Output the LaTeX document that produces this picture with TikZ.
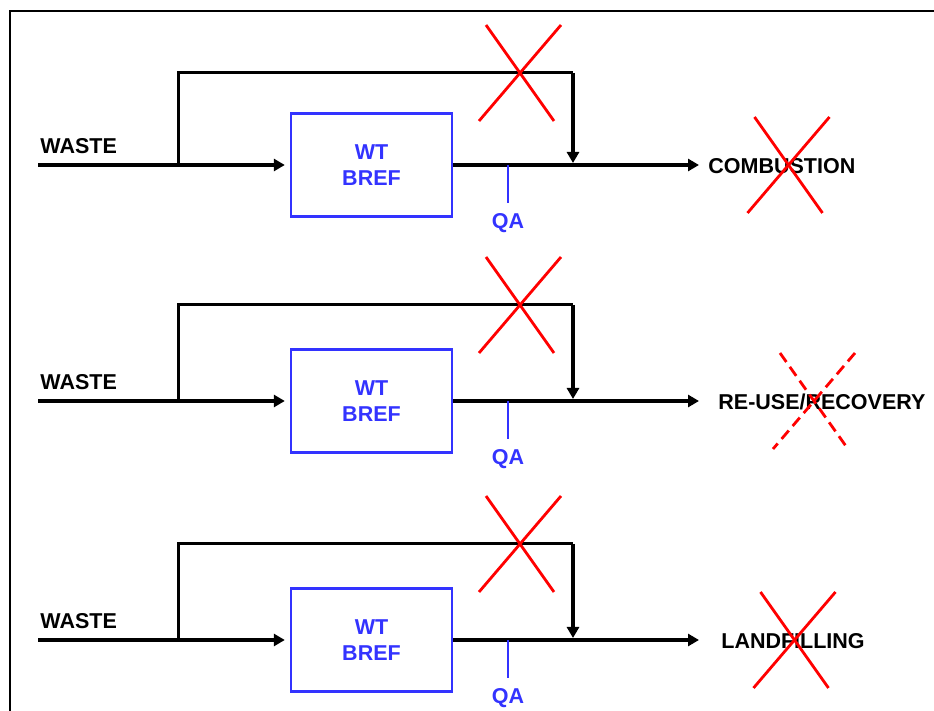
\documentclass[tikz,border=0pt]{standalone}
\usepackage{fontspec}
\setmainfont{Liberation Sans}
\usetikzlibrary{arrows.meta,positioning}

\definecolor{wtblue}{RGB}{51,51,255}

\tikzset{
    flow/.style={line width=2pt,-{Triangle[length=5.5pt,width=6pt]}},
    bypass/.style={line width=1.5pt},
    wtbox/.style={draw=wtblue,line width=1.2pt,minimum width=80.5pt,
        minimum height=51.5pt,text=wtblue,align=center,inner sep=0pt,
        font=\bfseries\fontsize{10.75}{13.25}\selectfont},
    qaline/.style={wtblue,line width=0.8pt},
    lbl/.style={font=\bfseries\fontsize{10.75}{13.25}\selectfont,inner sep=0pt},
    redx/.style={red,line width=1.4pt},
    nogo/.pic={
        \draw[redx] (-34,-48) -- (34,48);
        \draw[redx] (41,-48) -- (-41,48);
    }
}

\begin{document}
\begin{tikzpicture}[x=0.5pt,y=-0.5pt]
    \useasboundingbox (0,0) rectangle (934,711);

    % frame, cut off at the right and bottom
    \draw[line width=1.2pt] (950,11) -- (10,11) -- (10,725);

    % one treatment line per destination
    \foreach \y/\yt/\lx/\out [count=\i] in
        {165/73/708/COMBUSTION, 401/305/718/{RE-USE/RECOVERY}, 640/544/721/LANDFILLING}
    {
        \coordinate (in\i) at (38,\y);
        \coordinate (split\i) at (178,\y);
        \coordinate (corner\i) at (573,\yt);
        \coordinate (join\i) at (573,\y);
        \coordinate (tap\i) at (508,\y);
        \coordinate (end\i) at (699,\y);

        \node[lbl,anchor=base west] (waste\i) at (40,\y-11) {WASTE};
        \node[wtbox] (box\i) at (371.5,\y) {WT\\BREF};
        \node[lbl,text=wtblue,anchor=north] (qa\i) at (508,\y+48) {QA};
        \node[lbl,anchor=base west] (dest\i) at (\lx,\y+9) {\out};

        \draw[flow,shorten >=2.5pt] (in\i) -- (box\i.west);
        \draw[flow] (box\i.east) -- (end\i);
        \draw[bypass] (split\i) |- (corner\i);
        \draw[flow,shorten >=1pt] (corner\i) -- (join\i);
        \draw[qaline,shorten >=5pt] (tap\i) -- (qa\i.north);

        % bypass not allowed
        \pic at (520,\yt) {nogo};
    }

    % crossed out destinations
    \pic at (788.5,165) {nogo};
    \pic[line width=1.8pt,dash pattern=on 5.5pt off 3pt] at (814,401) {nogo};
    \pic at (794.5,640) {nogo};

\end{tikzpicture}
\end{document}
